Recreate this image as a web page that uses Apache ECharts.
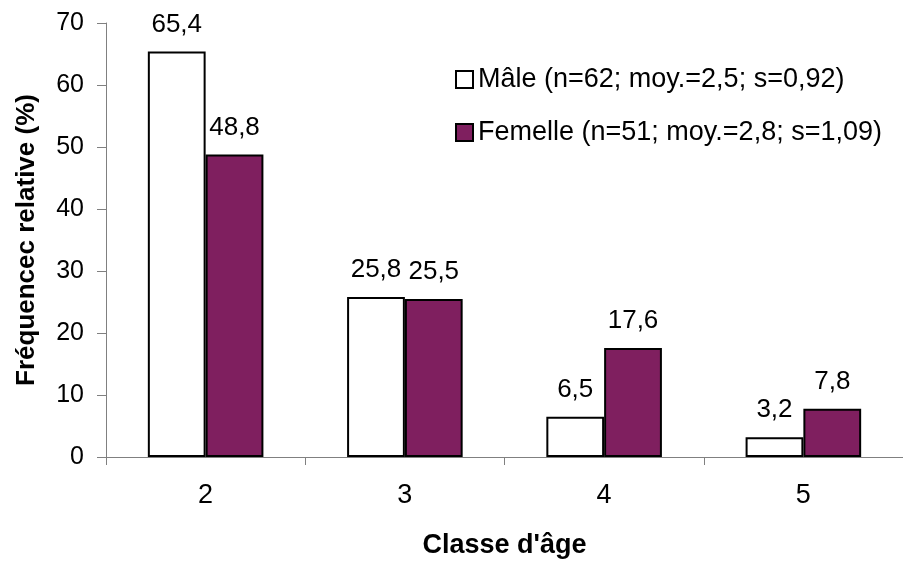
<!DOCTYPE html>
<html>
<head>
<meta charset="utf-8">
<script src="https://cdn.jsdelivr.net/npm/echarts@6/dist/echarts.min.js"></script>
<style>
html,body{margin:0;padding:0;background:#fff;}
#chart{width:903px;height:564px;}
</style>
</head>
<body>
<div id="chart"></div>
<script>
// Age classes on the x axis
const categories = ['2', '3', '4', '5'];
// Relative frequency (%) by sex
const maleValues = [65.4, 25.8, 6.5, 3.2];
const femaleValues = [48.8, 25.5, 17.6, 7.8];
const seriesNames = [
  'Mâle (n=62; moy.=2,5; s=0,92)',
  'Femelle (n=51; moy.=2,8; s=1,09)'
];
const yTicks = { min: 0, max: 70, interval: 10 };

const FONT = 'Liberation Sans, Arial, sans-serif';
const chart = echarts.init(document.getElementById('chart'));

const labelStyle = {
  show: true,
  position: 'top',
  distance: 14,
  color: '#000',
  fontFamily: FONT,
  fontSize: 26,
  formatter: p => String(p.value).replace('.', ',')
};

chart.setOption({
  animation: false,
  backgroundColor: '#fff',
  grid: { left: 106, right: -4, top: 23, bottom: 105, containLabel: false },
  legend: {
    orient: 'vertical',
    left: 450,
    top: 61,
    itemWidth: 17,
    itemHeight: 17,
    itemGap: 26,
    icon: 'rect',
    textStyle: { fontFamily: FONT, fontSize: 27, color: '#000', padding: [0, 0, 0, 0] },
    data: seriesNames
  },
  xAxis: {
    type: 'category',
    data: categories,
    name: "Classe d'âge",
    nameLocation: 'middle',
    nameGap: 75,
    nameTextStyle: { fontFamily: FONT, fontSize: 27, fontWeight: 'bold', color: '#000' },
    axisLine: { lineStyle: { color: '#808080', width: 1 } },
    axisTick: { show: true, length: 8, lineStyle: { color: '#808080' } },
    axisLabel: { fontFamily: FONT, fontSize: 27, color: '#000', margin: 25 }
  },
  yAxis: {
    type: 'value',
    min: yTicks.min,
    max: yTicks.max,
    interval: yTicks.interval,
    name: 'Fréquencec relative (%)',
    nameLocation: 'middle',
    nameGap: 66,
    nameTextStyle: { fontFamily: FONT, fontSize: 26, fontWeight: 'bold', color: '#000' },
    axisLine: { show: true, lineStyle: { color: '#808080', width: 1 } },
    axisTick: { show: true, length: 9, lineStyle: { color: '#808080' } },
    axisLabel: { fontFamily: FONT, fontSize: 25, color: '#000', margin: 22 },
    splitLine: { show: false }
  },
  series: [
    {
      name: seriesNames[0],
      type: 'bar',
      data: maleValues,
      barGap: '0%',
      barCategoryGap: '42%',
      itemStyle: { color: '#ffffff', borderColor: '#000', borderWidth: 2 },
      label: labelStyle
    },
    {
      name: seriesNames[1],
      type: 'bar',
      data: femaleValues,
      barGap: '0%',
      barCategoryGap: '42%',
      itemStyle: { color: '#7f1f5f', borderColor: '#000', borderWidth: 2 },
      label: labelStyle
    }
  ]
});
</script>
</body>
</html>
